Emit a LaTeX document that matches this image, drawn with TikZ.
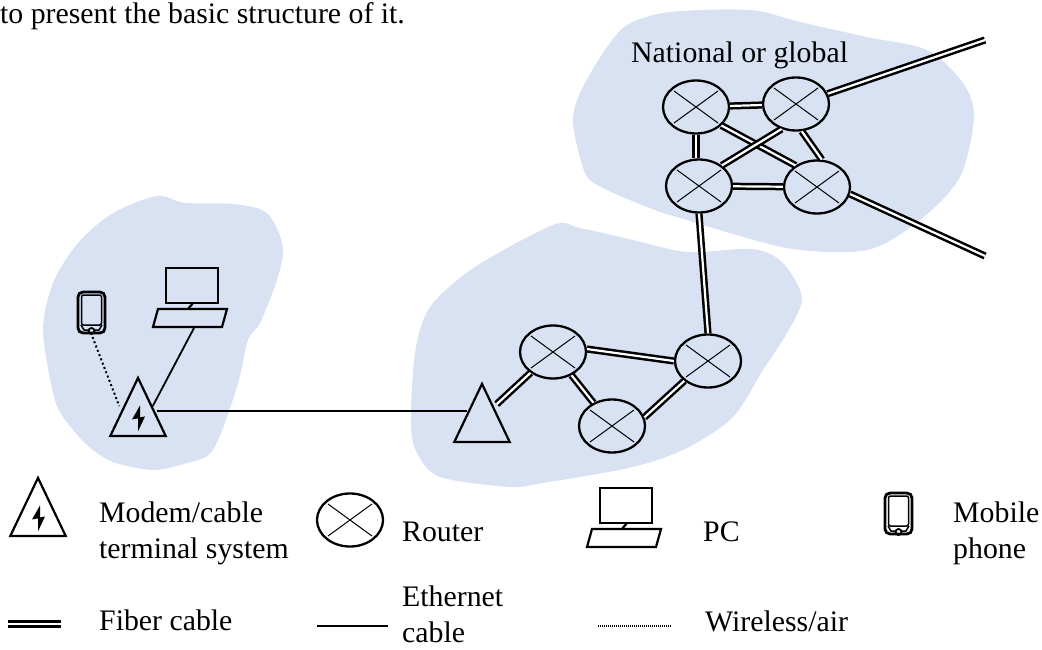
\documentclass[tikz,border=0pt]{standalone}
\usepackage{fontspec}
\setmainfont{Liberation Serif}
\usepackage{tikz}
\usetikzlibrary{positioning,shapes.geometric}
\definecolor{blobblue}{HTML}{D9E2F3}

\tikzset{
  pics/desktop/.style={code={
    \draw[line width=2.2pt] (0,0) rectangle (52,35);
    \draw[line width=2.2pt] (27,35) -- (22,41);
    \draw[line width=2.2pt] (-8,41) -- (61,41) -- (56,59) -- (-13,59) -- cycle;
    \coordinate (-key) at (28,60);
  }},
  pics/handset/.style={code={
    \draw[line width=2.8pt, rounded corners=5pt] (0,0) rectangle (27,41);
    \draw[line width=1.5pt, rounded corners=2pt] (3.5,3) rectangle (23.5,33);
    \draw[line width=1.8pt] (13.5,39) circle (3);
    \draw[line width=1.5pt] (3,33) -- (6,38) -- (10,38);
    \draw[line width=1.5pt] (24,33) -- (21,38) -- (17,38);
    \coordinate (-btm) at (14.5,45);
  }}
}

\begin{document}
\begin{tikzpicture}[x=1pt, y=-1pt, font=\fontsize{29.8}{36}\selectfont]
\tikzstyle{router} = [draw, ellipse, line width=2.3pt, minimum width=66pt, minimum height=53pt, inner sep=0pt,
  path picture={
    \draw[line width=1pt] ([shift={(-22pt,16pt)}]path picture bounding box.center) -- ([shift={(22pt,-16pt)}]path picture bounding box.center);
    \draw[line width=1pt] ([shift={(-22pt,-16pt)}]path picture bounding box.center) -- ([shift={(22pt,16pt)}]path picture bounding box.center);
  }]
\tikzstyle{access} = [draw, isosceles triangle, isosceles triangle apex angle=51, shape border rotate=90, line width=2.2pt,
  minimum height=58pt, inner sep=0pt, anchor=lower side]
\tikzstyle{modem} = [access,
  path picture={
    \fill[shift={(path picture bounding box.center)}, yshift=-11pt] (2,-13) -- (-6,1) -- (0,0) -- (0,13) -- (7,-2) -- (2,-1) -- cycle;
  }]
\tikzstyle{fiber} = [draw, line width=2.5pt, double=white, double distance=2.2pt]
\tikzstyle{ether} = [draw, line width=1.8pt]
\tikzstyle{air} = [draw, line width=2pt, dash pattern=on 2pt off 2.6pt]
\tikzstyle{word} = [anchor=base west, inner sep=0pt, align=left]

\useasboundingbox (0,0) rectangle (1042,650);

% shaded areas
\fill[blobblue] plot[smooth cycle, tension=0.5] coordinates {(157,196) (185,203) (233,204) (267,213) (283,247) (277,280) (260,323) (248,340) (237,387) (213,450) (187,463) (153,470) (113,462) (87,445) (63,417) (53,393) (43,330) (53,283) (78,243) (113,213)};
\fill[blobblue] plot[smooth cycle, tension=0.5] coordinates {(553,225) (580,228) (633,240) (687,252) (753,249) (783,263) (802,298) (787,333) (763,370) (733,417) (687,448) (633,467) (543,483) (510,487) (440,477) (417,453) (411,423) (415,353) (430,307) (475,267)};
\fill[blobblue] plot[smooth cycle, tension=0.5] coordinates {(670,12) (750,10) (800,22) (867,37) (927,50) (963,83) (974,117) (960,177) (920,220) (867,250) (787,248) (680,218) (647,207) (603,188) (585,173) (573,123) (580,93) (603,53) (627,25)};

\node[word] (intro) at (0,24) {to present the basic structure of it.};
\node[word] (natl) at (631,63) {National or global};

% core
\node[router] (r1) at (696,107) {};
\node[router] (r2) at (796,104) {};
\node[router] (r3) at (699,186) {};
\node[router] (r4) at (817,187) {};
\coordinate (outup) at (985,40);
\coordinate (outdown) at (985,256);

% regional
\node[router] (ra) at (553,352) {};
\node[router] (rb) at (708,361) {};
\node[router] (rc) at (612,426) {};
\node[access] (term) at (482,443) {};

% home
\node[modem] (home) at (138,437) {};
\pic (pc) at (166,268) {desktop};
\pic (phone) at (78,292) {handset};

\draw[fiber] (r1) -- (r2);
\draw[fiber] (r3) -- (r4);
\draw[fiber] (r1.south) -- (r1.south |- r3.north);
\draw[fiber] (r1.-36) -- (r4.135);
\draw[fiber] (r2.240) -- (r3.42);
\draw[fiber] (r2.-78) -- (r4.80);
\draw[fiber] (r2.18) -- (outup);
\draw[fiber] (r4.-12) -- (outdown);
\draw[fiber] (r3.south) -- (rb.north);
\draw[fiber] (ra.5) -- (rb.west);
\draw[fiber] (ra) -- (rc);
\draw[fiber] (rc.15) -- (rb.220);
\draw[fiber] ([yshift=8pt]term.right side) -- (ra);
\draw[ether] ([shift={(4pt,-5pt)}]home.right side) -- ([yshift=1pt]term.left side);
\draw[ether] (pc-key) -- (home.right side);
\draw[air] (phone-btm) -- ([xshift=-4pt]home.left side);

% legend
\node[word] (keymodemtxt) at (99,558) {Modem/cable\\terminal system};
\node[modem] (keymodem) at (38,537) {};
\node[router] (keyrouter) at (350,520) {};
\node[word] (keyroutertxt) at (402,541) {Router};
\pic (keypc) at (600,488) {desktop};
\node[word] (keypctxt) at (703,541) {PC};
\pic (keyphone) at (885,493) {handset};
\node[word] (keyphonetxt) at (953,558) {Mobile\\phone};

\node[word] (keyfiber) at (99,630) {Fiber cable};
\coordinate (fa) at (8,624);
\coordinate (fb) at (61,624);
\draw[fiber] (fa) -- (fb);
\node[word] (keyether) at (402,642) {Ethernet\\cable};
\coordinate (ea) at (317,626);
\coordinate (eb) at (388,626);
\draw[ether] (ea) -- (eb);
\node[word] (keyair) at (705,631) {Wireless/air};
\coordinate (wa) at (598,626);
\coordinate (wb) at (672,626);
\draw[line width=1.2pt, dash pattern=on 1pt off 1pt] (wa) -- (wb);
\end{tikzpicture}
\end{document}
